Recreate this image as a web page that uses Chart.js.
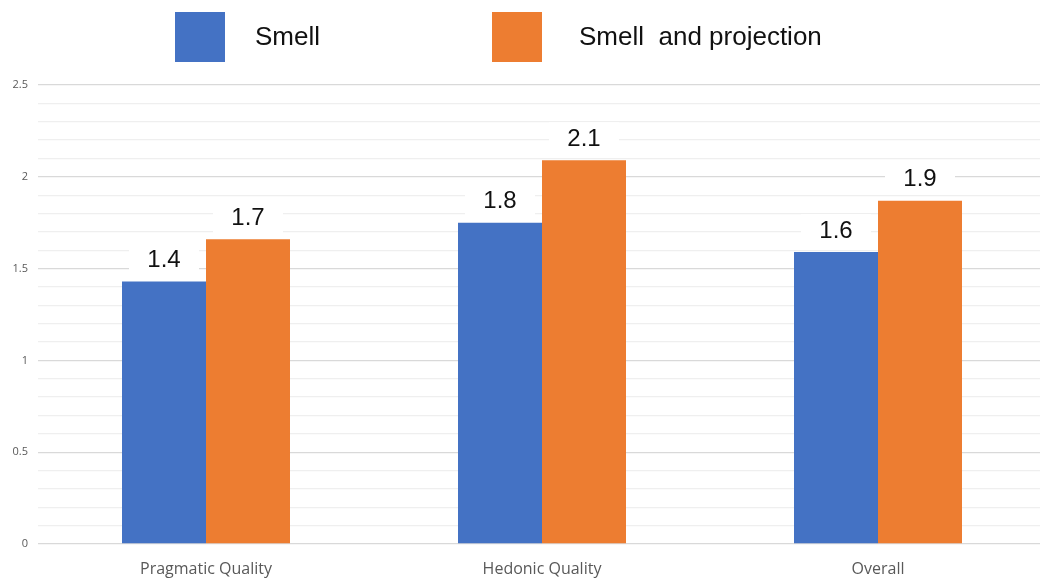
<!DOCTYPE html>
<html>
<head>
<meta charset="utf-8">
<script src="https://cdn.jsdelivr.net/npm/chart.js@4/dist/chart.umd.min.js"></script>
<style>
  html, body { margin: 0; padding: 0; background: #fff; overflow: hidden; }
  #wrap { position: absolute; left: 0; top: 0; }
</style>
</head>
<body>
<div id="wrap"><canvas id="c" width="1046" height="583"></canvas></div>
<script>
// Category names along the x axis
const categories = ['Pragmatic Quality', 'Hedonic Quality', 'Overall'];
// Mean scores per condition
const smellValues = [1.43, 1.75, 1.59];
const smellProjectionValues = [1.66, 2.09, 1.87];
// Series names
const seriesNames = ['Smell', 'Smell  and projection'];
// Y axis range and labelled ticks
const yMin = 0, yMax = 2.5, yMinorStep = 0.1;
const yTickLabels = ['0', '0.5', '1', '1.5', '2', '2.5'];

const BLUE = '#4472C4';
const ORANGE = '#ED7D31';

// Legend drawn as large squares with text at set positions above the plot
const topLegend = {
  id: 'topLegend',
  afterDraw(chart, args, opts) {
    const ctx = chart.ctx;
    ctx.save();
    chart.data.datasets.forEach((ds, i) => {
      const it = opts.items[i];
      ctx.fillStyle = ds.backgroundColor;
      ctx.fillRect(it.boxX, opts.boxY, opts.boxSize, opts.boxSize);
      ctx.fillStyle = '#111';
      ctx.font = opts.font;
      ctx.textBaseline = 'middle';
      ctx.textAlign = 'left';
      ctx.fillText(ds.label, it.textX, opts.boxY + opts.boxSize / 2 + 1);
    });
    ctx.restore();
  }
};

// Value labels above each bar on a white plate
const valueLabels = {
  id: 'valueLabels',
  afterDatasetsDraw(chart, args, opts) {
    const ctx = chart.ctx;
    ctx.save();
    chart.data.datasets.forEach((ds, di) => {
      const meta = chart.getDatasetMeta(di);
      meta.data.forEach((bar, i) => {
        const txt = ds.data[i].toFixed(1);
        const cy = bar.y - opts.offset;
        ctx.fillStyle = '#fff';
        ctx.fillRect(bar.x - opts.plateW / 2, cy - opts.plateH / 2, opts.plateW, opts.plateH);
        ctx.fillStyle = '#111';
        ctx.font = opts.font;
        ctx.textAlign = 'center';
        ctx.textBaseline = 'middle';
        ctx.fillText(txt, bar.x, cy + 1);
      });
    });
    ctx.restore();
  }
};

const isMajor = v => Math.round(v * 10) % 5 === 0;

new Chart(document.getElementById('c'), {
  type: 'bar',
  data: {
    labels: categories,
    datasets: [
      { label: seriesNames[0], data: smellValues, backgroundColor: BLUE, borderWidth: 0 },
      { label: seriesNames[1], data: smellProjectionValues, backgroundColor: ORANGE, borderWidth: 0 }
    ]
  },
  options: {
    responsive: false,
    animation: false,
    layout: { padding: { top: 85, left: 0, right: 0, bottom: 0 } },
    datasets: { bar: { categoryPercentage: 0.5, barPercentage: 1.0 } },
    plugins: {
      legend: { display: false },
      tooltip: { enabled: false },
      topLegend: {
        boxY: 12, boxSize: 50,
        font: '26px "Liberation Sans", Arial, sans-serif',
        items: [ { boxX: 175, textX: 255 }, { boxX: 492, textX: 579 } ]
      },
      valueLabels: {
        offset: 22, plateW: 70, plateH: 32,
        font: '24px "Liberation Sans", Arial, sans-serif'
      }
    },
    scales: {
      x: {
        grid: { display: false },
        border: { display: false },
        ticks: {
          color: '#595959',
          padding: 8,
          font: { family: '"Open Sans", sans-serif', size: 16 }
        },
        afterFit(scale) { scale.height = 39; }
      },
      y: {
        min: yMin,
        max: yMax,
        border: { display: false },
        grid: {
          drawTicks: false,
          lineWidth: 1.3,
          color: c => isMajor(c.tick.value) ? '#d9d9d9' : '#efefef'
        },
        ticks: {
          stepSize: yMinorStep,
          autoSkip: false,
          padding: 10,
          color: '#595959',
          font: { family: '"Open Sans", sans-serif', size: 11 },
          callback: v => isMajor(v) ? yTickLabels[Math.round(v * 2)] : ''
        },
        afterFit(scale) { scale.width = 38; }
      }
    }
  },
  plugins: [topLegend, valueLabels]
});
</script>
</body>
</html>
